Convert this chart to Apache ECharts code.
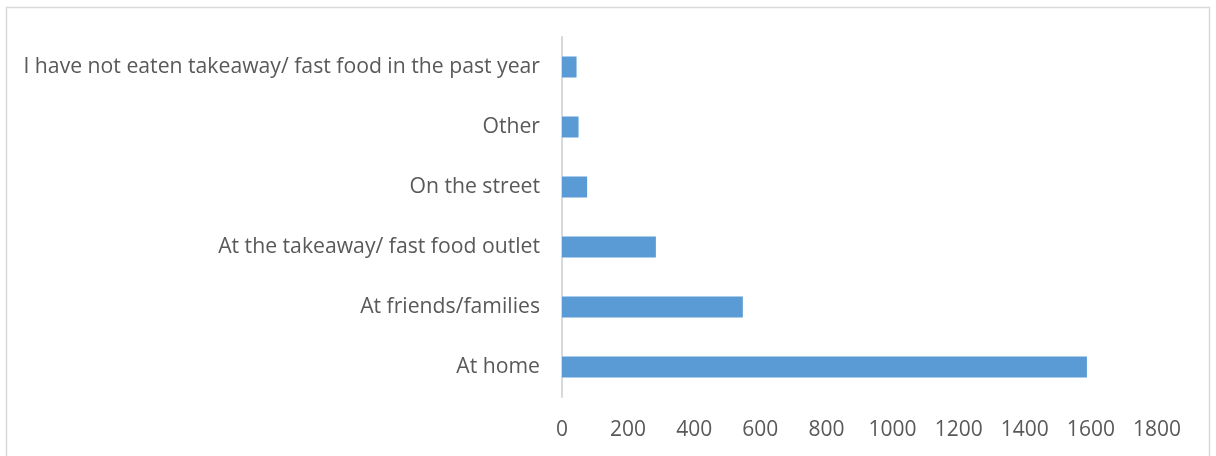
<!DOCTYPE html>
<html>
<head>
<meta charset="utf-8">
<script src="https://cdn.jsdelivr.net/npm/echarts@6/dist/echarts.min.js"></script>
<style>
  html, body { margin: 0; padding: 0; background: #fff; }
  #chart { width: 1216px; height: 456px; }
</style>
</head>
<body>
<div id="chart"></div>
<script>
// Where takeaway / fast food was eaten (bottom to top on the chart)
const categories = [
  'At home',
  'At friends/families',
  'At the takeaway/ fast food outlet',
  'On the street',
  'Other',
  'I have not eaten takeaway/ fast food in the past year'
];
const responses = [1588, 547, 284, 76, 50, 44];

const chart = echarts.init(document.getElementById('chart'));
const textColor = '#595959';
const fontFamily = '"Open Sans", sans-serif';

chart.setOption({
  animation: false,
  graphic: [{
    type: 'rect',
    shape: { x: 6.5, y: 7.5, width: 1203, height: 470 },
    style: { fill: 'none', stroke: '#d9d9d9', lineWidth: 1.5 },
    silent: true
  }],
  grid: { left: 562, right: 59, top: 37, bottom: 59 },
  xAxis: {
    type: 'value',
    min: 0,
    max: 1800,
    interval: 200,
    axisLine: { show: false },
    axisTick: { show: false },
    splitLine: { show: false },
    axisLabel: {
      color: textColor, fontFamily, fontSize: 21, margin: 23,
      formatter: v => String(v)
    }
  },
  yAxis: {
    type: 'category',
    data: categories,
    axisLine: { show: true, lineStyle: { color: '#d9d9d9', width: 2 } },
    axisTick: { show: false },
    axisLabel: { color: textColor, fontFamily, fontSize: 21.2, margin: 22 }
  },
  series: [{
    type: 'bar',
    data: responses,
    barWidth: 21,
    itemStyle: { color: '#5b9bd5' }
  }]
});
</script>
</body>
</html>
